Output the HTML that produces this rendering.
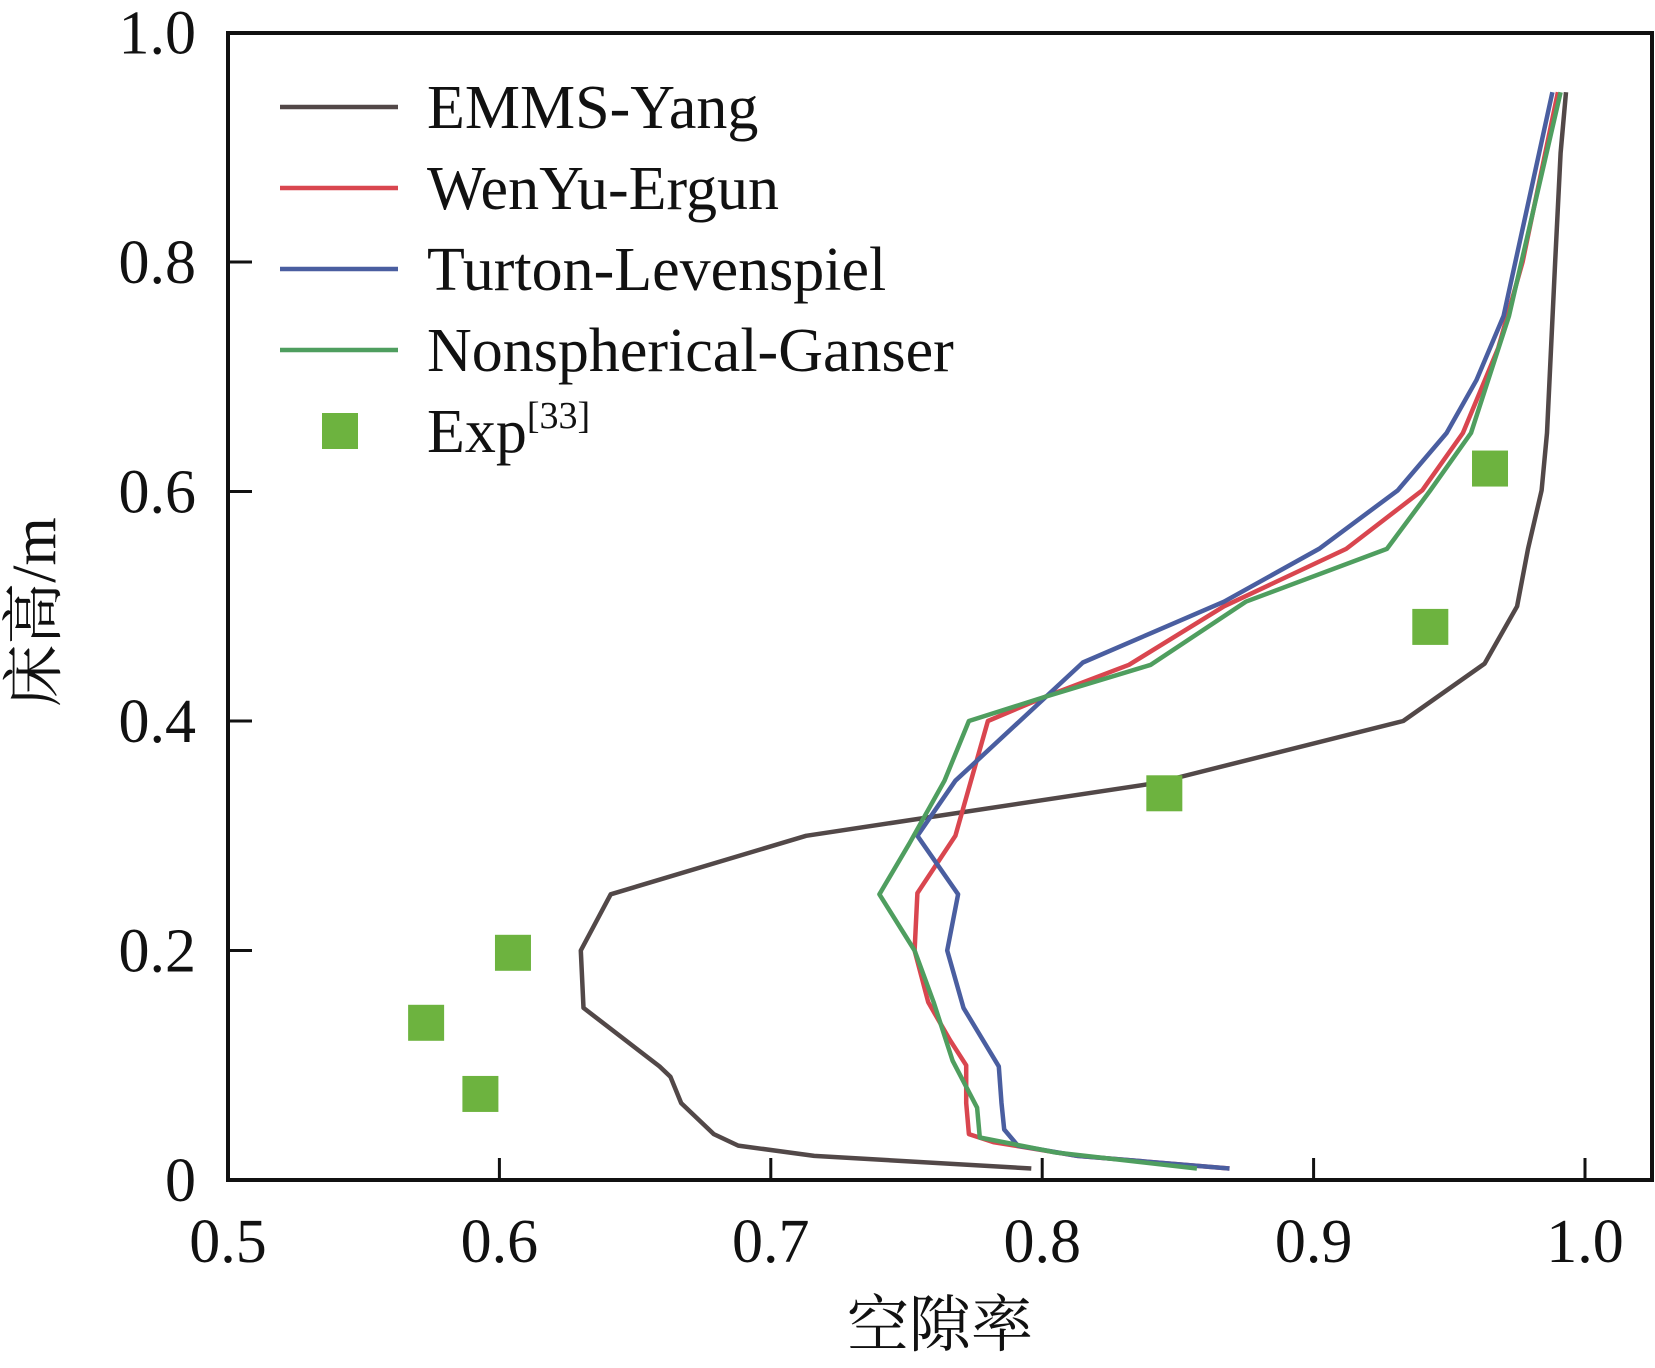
<!DOCTYPE html>
<html><head><meta charset="utf-8"><style>
html,body{margin:0;padding:0;background:#fff;}
svg text{font-family:"Liberation Serif","Noto Serif CJK SC",serif;fill:#111;}
</style></head><body>
<svg id="chart" width="1655" height="1363" viewBox="0 0 1655 1363" xmlns="http://www.w3.org/2000/svg">
<g id="plot"></g>
<g id="axes"></g>
<g id="legend"></g>
</svg>
<script>
const xTicks = [0.5, 0.6, 0.7, 0.8, 0.9, 1.0];
const xTickLabels = ["0.5","0.6","0.7","0.8","0.9","1.0"];
const yTicks = [0, 0.2, 0.4, 0.6, 0.8, 1.0];
const yTickLabels = ["0","0.2","0.4","0.6","0.8","1.0"];
const seriesNames = ["EMMS-Yang","WenYu-Ergun","Turton-Levenspiel","Nonspherical-Ganser"];
const emmsX = [0.796,0.716,0.688,0.679,0.667,0.663,0.659,0.631,0.630,0.641,0.713,0.842,0.933,0.963,0.975,0.979,0.984,0.986,0.989,0.991,0.993];
const emmsY = [0.010,0.021,0.030,0.040,0.067,0.090,0.099,0.150,0.200,0.249,0.300,0.346,0.400,0.450,0.500,0.550,0.601,0.651,0.799,0.895,0.948];
const wenX = [0.869,0.813,0.782,0.773,0.772,0.772,0.766,0.758,0.753,0.754,0.768,0.780,0.801,0.832,0.867,0.912,0.940,0.955,0.968,0.977,0.990];
const wenY = [0.010,0.021,0.033,0.040,0.067,0.100,0.122,0.155,0.200,0.250,0.300,0.400,0.421,0.449,0.500,0.550,0.601,0.651,0.725,0.800,0.948];
const turX = [0.869,0.813,0.791,0.786,0.785,0.784,0.771,0.765,0.769,0.754,0.768,0.815,0.867,0.902,0.931,0.949,0.960,0.970,0.988];
const turY = [0.010,0.021,0.030,0.044,0.067,0.099,0.150,0.200,0.249,0.300,0.348,0.451,0.504,0.550,0.601,0.651,0.697,0.753,0.948];
const ganX = [0.857,0.805,0.777,0.776,0.767,0.760,0.753,0.740,0.751,0.764,0.773,0.801,0.840,0.875,0.927,0.943,0.958,0.972,0.991];
const ganY = [0.010,0.024,0.037,0.063,0.104,0.155,0.200,0.249,0.293,0.348,0.400,0.421,0.449,0.504,0.550,0.601,0.651,0.753,0.948];
const expX = [0.965,0.943,0.845,0.605,0.573,0.593];
const expY = [0.620,0.482,0.337,0.198,0.137,0.075];

const NS="http://www.w3.org/2000/svg";
const L=228,R=1652,T=33,B=1180;
const sx=v=>L+(v-0.5)*2714;
const sy=v=>B-v*1147.5;
function mk(tag,attrs,parent){const e=document.createElementNS(NS,tag);for(const k in attrs)e.setAttribute(k,attrs[k]);parent.appendChild(e);return e;}
const plot=document.getElementById('plot'),axes=document.getElementById('axes'),legend=document.getElementById('legend');
const colors=["#524848","#d9464f","#4a5ea0","#4f9e5f"];
const sets=[[emmsX,emmsY],[wenX,wenY],[turX,turY],[ganX,ganY]];
sets.forEach((s,i)=>{
  const d=s[0].map((x,j)=>(j?'L':'M')+sx(x).toFixed(1)+','+sy(s[1][j]).toFixed(1)).join(' ');
  const p=mk('path',{d:d,fill:'none',stroke:colors[i],'stroke-width':4.5,'stroke-linejoin':'round'},plot);
  
  
});
expX.forEach((x,j)=>{
  const r=mk('rect',{x:sx(x)-18,y:sy(expY[j])-18,width:36,height:36,fill:'#6db33f'},plot);
  
  
});
const frame=mk('rect',{x:L,y:T,width:R-L,height:B-T,fill:'none',stroke:'#111','stroke-width':4},axes);


xTicks.forEach((v,i)=>{
  mk('line',{x1:sx(v),x2:sx(v),y1:B,y2:B-22,stroke:'#111','stroke-width':3},axes);
  const t=mk('text',{x:sx(v),y:B+82,'font-size':62,'text-anchor':'middle'},axes);
  t.textContent=xTickLabels[i];
  
  
});
yTicks.forEach((v,i)=>{
  mk('line',{x1:L,x2:L+24,y1:sy(v),y2:sy(v),stroke:'#111','stroke-width':3},axes);
  const t=mk('text',{x:L-32,y:sy(v)+21,'font-size':62,'text-anchor':'end'},axes);
  t.textContent=yTickLabels[i];
  
  
});
const xt=mk('text',{x:940,y:1346,'font-size':62,'text-anchor':'middle'},axes);
xt.textContent='空隙率';


const yt=mk('text',{x:0,y:0,'font-size':62,'text-anchor':'middle',transform:'translate(55,612) rotate(-90)'},axes);
yt.textContent='床高/m';


const legY=[107,188,269,350];
seriesNames.forEach((n,i)=>{
  mk('line',{x1:280,x2:398,y1:legY[i],y2:legY[i],stroke:colors[i],'stroke-width':4.5},legend);
  const t=mk('text',{x:427,y:legY[i]+21,'font-size':62},legend);
  t.textContent=n;
  
  
});
mk('rect',{x:322,y:413,width:36,height:36,fill:'#6db33f'},legend);
const et=mk('text',{x:427,y:452,'font-size':62},legend);
et.innerHTML='Exp<tspan font-size="38" dy="-24">[33]</tspan>';


</script>
</body></html>
